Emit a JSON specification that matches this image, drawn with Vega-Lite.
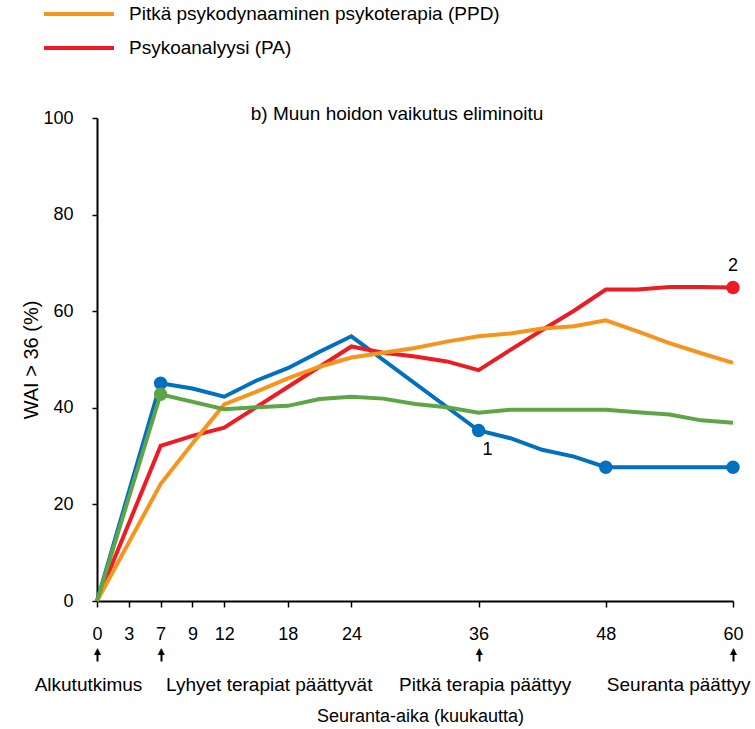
{
  "$schema": "https://vega.github.io/schema/vega-lite/v6.json",
  "width": 636,
  "height": 483,
  "autosize": {"type": "none"},
  "padding": {"left": 97, "top": 118, "right": 22, "bottom": 128},
  "background": "white",
  "config": {
    "font": "Liberation Sans",
    "view": {"stroke": null},
    "axis": {"grid": false, "domainColor": "black", "tickColor": "black", "labelColor": "black", "titleColor": "black", "labelFont": "Liberation Sans", "titleFont": "Liberation Sans", "titleFontWeight": "normal"}
  },
  "title": {"text": "b) Muun hoidon vaikutus eliminoitu", "fontSize": 19, "fontWeight": "normal", "font": "Liberation Sans", "color": "black", "offset": -122, "dx": -18},
  "datasets": {
    "wai": [
      {"series": "LPD", "month": 0, "wai": 0},
      {"series": "LPD", "month": 7, "wai": 45.1},
      {"series": "LPD", "month": 9, "wai": 44.0},
      {"series": "LPD", "month": 12, "wai": 42.3},
      {"series": "LPD", "month": 15, "wai": 45.6},
      {"series": "LPD", "month": 18, "wai": 48.2},
      {"series": "LPD", "month": 21, "wai": 51.6},
      {"series": "LPD", "month": 24, "wai": 54.8},
      {"series": "LPD", "month": 36, "wai": 35.3},
      {"series": "LPD", "month": 39, "wai": 33.7},
      {"series": "LPD", "month": 42, "wai": 31.3},
      {"series": "LPD", "month": 45, "wai": 29.9},
      {"series": "LPD", "month": 48, "wai": 27.7},
      {"series": "LPD", "month": 54, "wai": 27.7},
      {"series": "LPD", "month": 60, "wai": 27.7},
      {"series": "PA", "month": 0, "wai": 0},
      {"series": "PA", "month": 7, "wai": 32.1},
      {"series": "PA", "month": 9, "wai": 34.2},
      {"series": "PA", "month": 12, "wai": 35.9},
      {"series": "PA", "month": 18, "wai": 44.3},
      {"series": "PA", "month": 24, "wai": 52.7},
      {"series": "PA", "month": 27, "wai": 51.4},
      {"series": "PA", "month": 30, "wai": 50.6},
      {"series": "PA", "month": 33, "wai": 49.6},
      {"series": "PA", "month": 36, "wai": 47.8},
      {"series": "PA", "month": 39, "wai": 52.0},
      {"series": "PA", "month": 42, "wai": 56.1},
      {"series": "PA", "month": 45, "wai": 60.1},
      {"series": "PA", "month": 48, "wai": 64.5},
      {"series": "PA", "month": 51, "wai": 64.5},
      {"series": "PA", "month": 54, "wai": 65.0},
      {"series": "PA", "month": 57, "wai": 65.0},
      {"series": "PA", "month": 60, "wai": 64.9},
      {"series": "PPD", "month": 0, "wai": 0},
      {"series": "PPD", "month": 7, "wai": 24.2},
      {"series": "PPD", "month": 9, "wai": 32.6},
      {"series": "PPD", "month": 12, "wai": 40.7},
      {"series": "PPD", "month": 15, "wai": 43.3},
      {"series": "PPD", "month": 18, "wai": 46.1},
      {"series": "PPD", "month": 21, "wai": 48.5},
      {"series": "PPD", "month": 24, "wai": 50.4},
      {"series": "PPD", "month": 27, "wai": 51.4},
      {"series": "PPD", "month": 30, "wai": 52.4},
      {"series": "PPD", "month": 33, "wai": 53.7},
      {"series": "PPD", "month": 36, "wai": 54.8},
      {"series": "PPD", "month": 39, "wai": 55.4},
      {"series": "PPD", "month": 42, "wai": 56.4},
      {"series": "PPD", "month": 45, "wai": 56.9},
      {"series": "PPD", "month": 48, "wai": 58.1},
      {"series": "PPD", "month": 51, "wai": 55.8},
      {"series": "PPD", "month": 54, "wai": 53.4},
      {"series": "PPD", "month": 57, "wai": 51.3},
      {"series": "PPD", "month": 60, "wai": 49.3},
      {"series": "RKT", "month": 0, "wai": 0},
      {"series": "RKT", "month": 7, "wai": 42.8},
      {"series": "RKT", "month": 12, "wai": 39.7},
      {"series": "RKT", "month": 15, "wai": 40.1},
      {"series": "RKT", "month": 18, "wai": 40.4},
      {"series": "RKT", "month": 21, "wai": 41.8},
      {"series": "RKT", "month": 24, "wai": 42.3},
      {"series": "RKT", "month": 27, "wai": 41.9},
      {"series": "RKT", "month": 30, "wai": 40.8},
      {"series": "RKT", "month": 33, "wai": 40.1},
      {"series": "RKT", "month": 36, "wai": 39.0},
      {"series": "RKT", "month": 39, "wai": 39.6},
      {"series": "RKT", "month": 42, "wai": 39.6},
      {"series": "RKT", "month": 45, "wai": 39.6},
      {"series": "RKT", "month": 48, "wai": 39.6},
      {"series": "RKT", "month": 51, "wai": 39.1},
      {"series": "RKT", "month": 54, "wai": 38.6},
      {"series": "RKT", "month": 57, "wai": 37.4},
      {"series": "RKT", "month": 60, "wai": 36.9}
    ],
    "notes": [
      {"series": "LPD", "month": 36, "wai": 35.3, "note": "1"},
      {"series": "PA", "month": 60, "wai": 64.9, "note": "2"}
    ]
  },
  "resolve": {"axis": {"x": "independent"}},
  "layer": [
    {
      "data": {"name": "wai"},
      "mark": {"type": "line", "strokeWidth": 4},
      "encoding": {
        "x": {
          "field": "month", "type": "quantitative",
          "scale": {"domain": [0, 3, 7, 9, 60], "range": [0, 31.8, 63.6, 95.4, 636], "nice": false, "zero": false},
          "axis": {"orient": "bottom", "title": null, "values": [0, 3, 7, 9, 12, 18, 24, 36, 48, 60], "domainWidth": 2, "tickWidth": 1.5, "tickSize": 6, "labelFontSize": 18, "labelPadding": 18, "labelFlush": false, "labelOverlap": false}
        },
        "y": {
          "field": "wai", "type": "quantitative",
          "scale": {"domain": [0, 100], "nice": false},
          "axis": {"title": "WAI > 36 (%)", "titleFontSize": 20, "titlePadding": 1, "values": [0, 20, 40, 60, 80, 100], "domainWidth": 2, "tickWidth": 1.5, "tickSize": 5, "labelFontSize": 18, "labelPadding": 19, "labelFlush": false, "labelOverlap": false}
        },
        "color": {
          "field": "series", "type": "nominal",
          "scale": {"domain": ["PPD", "PA", "LPD", "RKT"], "range": ["#F7941D", "#ED1C24", "#0070C0", "#5EA545"]},
          "legend": {
            "orient": "none", "legendX": -30, "legendY": -116, "title": null,
            "values": ["PPD", "PA"],
            "labelExpr": "datum.value == 'PPD' ? 'Pitkä psykodynaaminen psykoterapia (PPD)' : 'Psykoanalyysi (PA)'",
            "symbolType": "M-3.5,0H3.5", "symbolSize": 400, "symbolStrokeWidth": 4,
            "labelFontSize": 19, "labelFont": "Liberation Sans", "labelColor": "black", "labelLimit": 0, "labelOffset": 38, "rowPadding": 12
          }
        }
      }
    },
    {
      "data": {"name": "wai"},
      "transform": [{"filter": "(datum.series == 'LPD' && indexof([7, 36, 48, 60], datum.month) >= 0) || (datum.series == 'RKT' && datum.month == 7) || (datum.series == 'PA' && datum.month == 60)"}],
      "mark": {"type": "point", "filled": true, "opacity": 1, "size": 180},
      "encoding": {
        "x": {
          "field": "month", "type": "quantitative",
          "axis": {"orient": "bottom", "title": null, "values": [0, 7, 36, 60], "labelExpr": "'▲'", "offset": 60, "domain": false, "ticks": true, "tickSize": -9, "tickWidth": 2, "labelPadding": 2, "labelBaseline": "alphabetic", "labelFontSize": 12, "labelFlush": false, "labelOverlap": false}
        },
        "y": {"field": "wai", "type": "quantitative"},
        "color": {"field": "series", "type": "nominal", "legend": null}
      }
    },
    {
      "data": {"name": "notes"},
      "transform": [{"filter": "datum.note == '1'"}],
      "mark": {"type": "text", "fontSize": 18, "dx": 9, "dy": 19, "color": "black"},
      "encoding": {
        "x": {
          "field": "month", "type": "quantitative",
          "axis": {
            "orient": "bottom", "values": [0, 7, 36, 60],
            "labelExpr": "datum.value == 0 ? 'Alkututkimus' : datum.value == 7 ? 'Lyhyet terapiat päättyvät' : datum.value == 36 ? 'Pitkä terapia päättyy' : 'Seuranta päättyy'",
            "labelAlign": {"condition": [{"test": "datum.value == 7", "value": "left"}, {"test": "datum.value == 60", "value": "right"}], "value": "center"},
            "labelOffset": {"condition": [{"test": "datum.value == 0", "value": -9}, {"test": "datum.value == 7", "value": 5}, {"test": "datum.value == 36", "value": 6}], "value": 17},
            "domain": false, "ticks": false, "tickSize": 0, "labelPadding": 74, "labelFontSize": 19, "labelFlush": false, "labelOverlap": false, "labelLimit": 0,
            "title": "Seuranta-aika (kuukautta)", "titleFontSize": 18, "titlePadding": 13, "titleX": 323
          }
        },
        "y": {"field": "wai", "type": "quantitative"},
        "text": {"field": "note"}
      }
    },
    {
      "data": {"name": "notes"},
      "transform": [{"filter": "datum.note == '2'"}],
      "mark": {"type": "text", "fontSize": 18, "dy": -22, "color": "black"},
      "encoding": {
        "x": {"field": "month", "type": "quantitative", "axis": null},
        "y": {"field": "wai", "type": "quantitative"},
        "text": {"field": "note"}
      }
    }
  ]
}
